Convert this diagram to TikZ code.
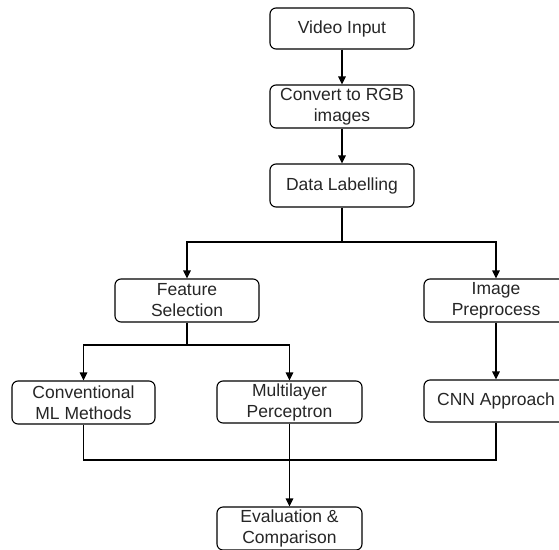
\documentclass[tikz,border=0pt]{standalone}
\usepackage{fontspec}
\setmainfont{Liberation Sans}
\usetikzlibrary{arrows.meta}
\begin{document}
\begin{tikzpicture}[x=1pt,y=-1pt,
  box/.style={draw, line width=1.1pt, rounded corners=6pt, align=center,
    inner sep=0pt, font=\fontsize{17.5}{21}\selectfont, text=black!85},
  link/.style={line width=1.1pt},
  arr/.style={link, -{Triangle[length=8pt,width=7.5pt]}}]
\useasboundingbox (0,0) rectangle (559,549);
\clip (0,0) rectangle (559,549);
\fill[white] (0,0) rectangle (559,549);
\node[box, minimum width=144pt, minimum height=41pt] (vi) at (342,28.5) {Video Input};
\node[box, minimum width=144pt, minimum height=43pt] (rgb) at (342,106.5) {Convert to RGB\\images};
\node[box, minimum width=144pt, minimum height=43pt] (dl) at (342,185.5) {Data Labelling};
\node[box, minimum width=144pt, minimum height=43pt] (fs) at (187,300.5) {Feature\\Selection};
\node[box, minimum width=144pt, minimum height=43pt] (ip) at (496,300.5) {Image\\Preprocess};
\node[box, minimum width=143pt, minimum height=43pt] (cml) at (83.5,402.5) {Conventional\\ML Methods};
\node[box, minimum width=145pt, minimum height=42pt] (mlp) at (289.5,402) {Multilayer\\Perceptron};
\node[box, minimum width=144pt, minimum height=42pt] (cnn) at (496,401) {CNN Approach};
\node[box, minimum width=145pt, minimum height=43pt] (ev) at (289.5,528.5) {Evaluation \&\\Comparison};
\coordinate (j1) at (342,242);
\coordinate (j2) at (187,345);
\coordinate (j3) at (289.5,460);
\draw[arr] (vi) -- (rgb);
\draw[arr] (rgb) -- (dl);
\draw[link] (dl) -- (j1);
\draw[arr] (j1) -| (fs.north);
\draw[arr] (j1) -| (ip.north);
\draw[link] (fs) -- (j2);
\draw[arr] (j2) -| (cml.north);
\draw[arr] (j2) -| (mlp.north);
\draw[arr] (ip) -- (cnn);
\draw[link] (cml.south) |- (j3) -| (cnn.south);
\draw[arr] (mlp) -- (ev);
\end{tikzpicture}
\end{document}
